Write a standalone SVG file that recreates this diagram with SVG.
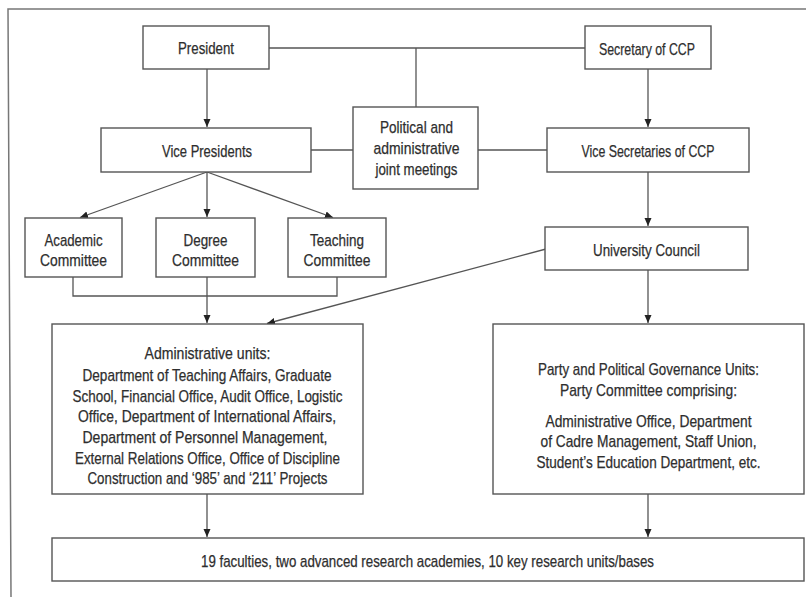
<svg xmlns="http://www.w3.org/2000/svg" width="806" height="597" viewBox="0 0 806 597">
<style>
.box{fill:#fff;stroke:#555;stroke-width:1.4}
.t{font-family:"Liberation Sans",Arial,sans-serif;font-size:17px;fill:#2e2e2e;stroke:#2e2e2e;stroke-width:0.25;text-anchor:middle}
.c{fill:none;stroke:#555;stroke-width:1.3}
.frame{fill:none;stroke:#777;stroke-width:1.5}
</style>
<defs>
<marker id="ah" markerUnits="userSpaceOnUse" markerWidth="9" markerHeight="8" refX="8" refY="3.5" orient="auto">
<path d="M0,0 L8,3.5 L0,7 z" fill="#222"/>
</marker>
</defs>
<rect width="806" height="597" fill="#fff"/>
<path class="frame" d="M806,9 H8 L11,597"/>
<g id="connectors">
<path class="c" d="M207,69 V127" marker-end="url(#ah)"/>
<path class="c" d="M269,48 H585"/>
<path class="c" d="M416,48 V107"/>
<path class="c" d="M311,150 H353"/>
<path class="c" d="M478,150 H547"/>
<path class="c" d="M648,69 V127" marker-end="url(#ah)"/>
<path class="c" d="M207,172 L80,217.5" marker-end="url(#ah)"/>
<path class="c" d="M207,172 V217" marker-end="url(#ah)"/>
<path class="c" d="M207,172 L333,217.5" marker-end="url(#ah)"/>
<path class="c" d="M73,277 V296 H337 V277"/>
<path class="c" d="M207,277 V323" marker-end="url(#ah)"/>
<path class="c" d="M546,249 L267,323.5" marker-end="url(#ah)"/>
<path class="c" d="M648,172 V226" marker-end="url(#ah)"/>
<path class="c" d="M648,270 V323" marker-end="url(#ah)"/>
<path class="c" d="M207,494 V537" marker-end="url(#ah)"/>
<path class="c" d="M648,494 V537" marker-end="url(#ah)"/>
</g>
<g id="president">
<rect class="box" x="143" y="26" width="126" height="43"/>
<text class="t" x="206" y="54" textLength="56" lengthAdjust="spacingAndGlyphs">President</text>
</g>
<g id="secretary">
<rect class="box" x="585" y="26" width="126" height="43"/>
<text class="t" x="647" y="54.5" textLength="96" lengthAdjust="spacingAndGlyphs">Secretary of CCP</text>
</g>
<g id="joint-meetings">
<rect class="box" x="353" y="107" width="125" height="82"/>
<text class="t" x="416.5" y="133" textLength="73" lengthAdjust="spacingAndGlyphs">Political and</text>
<text class="t" x="416.5" y="154" textLength="86" lengthAdjust="spacingAndGlyphs">administrative</text>
<text class="t" x="416.5" y="175" textLength="82" lengthAdjust="spacingAndGlyphs">joint meetings</text>
</g>
<g id="vice-presidents">
<rect class="box" x="101" y="128" width="210" height="44"/>
<text class="t" x="207" y="156.5" textLength="90" lengthAdjust="spacingAndGlyphs">Vice Presidents</text>
</g>
<g id="vice-secretaries">
<rect class="box" x="547" y="128" width="202" height="44"/>
<text class="t" x="648" y="156.5" textLength="133" lengthAdjust="spacingAndGlyphs">Vice Secretaries of CCP</text>
</g>
<g id="academic-committee">
<rect class="box" x="25" y="218" width="97" height="59"/>
<text class="t" x="73.5" y="245.5" textLength="58" lengthAdjust="spacingAndGlyphs">Academic</text>
<text class="t" x="73.5" y="266" textLength="67" lengthAdjust="spacingAndGlyphs">Committee</text>
</g>
<g id="degree-committee">
<rect class="box" x="156" y="218" width="99" height="59"/>
<text class="t" x="205.5" y="245.5" textLength="44" lengthAdjust="spacingAndGlyphs">Degree</text>
<text class="t" x="205.5" y="266" textLength="67" lengthAdjust="spacingAndGlyphs">Committee</text>
</g>
<g id="teaching-committee">
<rect class="box" x="288" y="218" width="98" height="59"/>
<text class="t" x="337" y="245.5" textLength="54" lengthAdjust="spacingAndGlyphs">Teaching</text>
<text class="t" x="337" y="266" textLength="67" lengthAdjust="spacingAndGlyphs">Committee</text>
</g>
<g id="university-council">
<rect class="box" x="545" y="227" width="203" height="43"/>
<text class="t" x="646.5" y="255.5" textLength="107" lengthAdjust="spacingAndGlyphs">University Council</text>
</g>
<g id="administrative-units">
<rect class="box" x="52" y="324" width="311" height="170"/>
<text class="t" x="207.5" y="359" textLength="126" lengthAdjust="spacingAndGlyphs">Administrative units:</text>
<text class="t" x="207" y="381" textLength="249" lengthAdjust="spacingAndGlyphs">Department of Teaching Affairs, Graduate</text>
<text class="t" x="207.5" y="401.7" textLength="270" lengthAdjust="spacingAndGlyphs">School, Financial Office, Audit Office, Logistic</text>
<text class="t" x="207" y="422.3" textLength="258" lengthAdjust="spacingAndGlyphs">Office, Department of International Affairs,</text>
<text class="t" x="205" y="443" textLength="245" lengthAdjust="spacingAndGlyphs">Department of Personnel Management,</text>
<text class="t" x="207.5" y="463.7" textLength="265" lengthAdjust="spacingAndGlyphs">External Relations Office, Office of Discipline</text>
<text class="t" x="207.5" y="484.3" textLength="240" lengthAdjust="spacingAndGlyphs">Construction and ‘985’ and ‘211’ Projects</text>
</g>
<g id="party-units">
<rect class="box" x="493" y="324" width="311" height="170"/>
<text class="t" x="648.5" y="375" textLength="221" lengthAdjust="spacingAndGlyphs">Party and Political Governance Units:</text>
<text class="t" x="648.5" y="396" textLength="177" lengthAdjust="spacingAndGlyphs">Party Committee comprising:</text>
<text class="t" x="648.5" y="426.5" textLength="206" lengthAdjust="spacingAndGlyphs">Administrative Office, Department</text>
<text class="t" x="648.5" y="447" textLength="216" lengthAdjust="spacingAndGlyphs">of Cadre Management, Staff Union,</text>
<text class="t" x="648.5" y="468" textLength="224" lengthAdjust="spacingAndGlyphs">Student’s Education Department, etc.</text>
</g>
<g id="faculties">
<rect class="box" x="52" y="538" width="752" height="43"/>
<text class="t" x="427.5" y="567" textLength="453" lengthAdjust="spacingAndGlyphs">19 faculties, two advanced research academies, 10 key research units/bases</text>
</g>
</svg>
